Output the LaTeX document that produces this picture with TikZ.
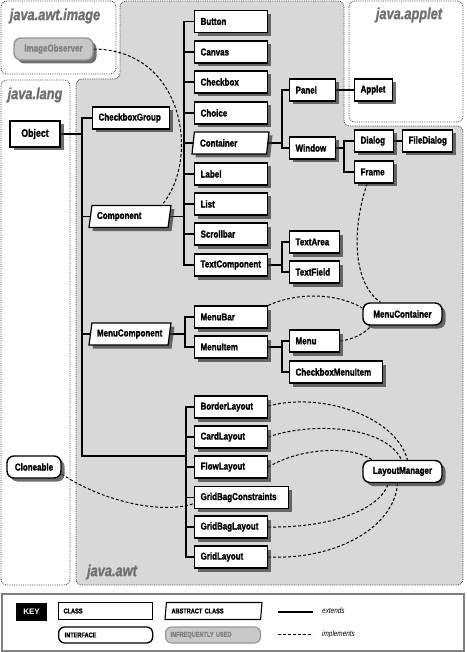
\documentclass[tikz,border=0pt]{standalone}
\usepackage{fontspec}
\setmainfont[FakeStretch=0.8,BoldFeatures={FakeBold=1.6},BoldItalicFeatures={FakeBold=1.2}]{Liberation Sans}
\newfontfamily\keyfont{Liberation Sans}
\usetikzlibrary{shapes.geometric,shadows,calc}
\definecolor{awtgray}{RGB}{216,216,216}
\definecolor{pkggray}{RGB}{112,112,112}
\definecolor{infill}{RGB}{200,200,200}
\definecolor{inline}{RGB}{150,150,150}
\definecolor{intext}{RGB}{128,128,128}
\pgfdeclarelayer{regions}
\pgfdeclarelayer{edges}
\pgfsetlayers{regions,edges,main}
\begin{document}
\begin{tikzpicture}[x=1pt,y=-1pt,
  nfont/.style={font=\bfseries\fontsize{10}{12}\selectfont},
  kfont/.style={font=\bfseries\fontsize{7}{8}\selectfont},
  shad/.style={drop shadow={shadow xshift=3.5pt,shadow yshift=-3.5pt,fill=black!80,opacity=.7}},
  cls/.style={rectangle,draw,line width=1.2pt,fill=white,nfont,minimum height=22pt,inner xsep=6pt,inner ysep=0pt,text width=#1,align=left,shad,anchor=west},
  abs/.style 2 args={trapezium,trapezium left angle=72,trapezium right angle=108,trapezium stretches body=true,draw,line width=1.2pt,fill=white,nfont,minimum width=#1,minimum height=22pt,inner xsep=0pt,inner ysep=0pt,text width=#2,align=left,shad},
  ifc/.style={rectangle,rounded corners=7pt,draw,line width=1.4pt,fill=white,nfont,minimum width=#1,minimum height=22pt,inner sep=0pt,align=center,shad},
  rare/.style={ifc=#1,draw=inline,fill=infill,text=intext},
  region/.style={draw=black!75,densely dotted,line width=0.8pt,rounded corners=6pt},
  pkg/.style={font=\bfseries\itshape\fontsize{16}{19}\selectfont,text=pkggray,inner sep=0pt},
  ext/.style={line width=1.1pt},
  impl/.style={line width=1pt,dash pattern=on 3pt off 2pt},
]
\useasboundingbox (0,0) rectangle (466,652);

% ---------- package regions ----------
\begin{pgfonlayer}{regions}
\draw[region,fill=awtgray] (120,1) -- (344,1) -- (344,126) -- (463,126) -- (463,585) -- (76,585) -- (76,79) -- (120,79) -- cycle;
\draw[region,fill=white] (1,1) rectangle (116,74);
\draw[region,fill=white] (349,1) rectangle (463,122);
\draw[region,fill=white] (1,80) rectangle (70,585);
\end{pgfonlayer}

\node[pkg] (lblimage) at (55,16) {java.awt.image};
\node[pkg] (lbllang) at (35,95) {java.lang};
\node[pkg] (lblapplet) at (409,15) {java.applet};
\node[pkg] (lblawt) at (112,572) {java.awt};

% ---------- nodes ----------
\node[rare=79] (imageobserver) at (53.5,49) {ImageObserver};
\node[cls=38,anchor=center,minimum height=26pt,align=center,font=\bfseries\fontsize{11}{13}\selectfont] (object) at (35,134) {Object};
\node[cls=65] (checkboxgroup) at (92,118) {CheckboxGroup};
\node[abs={82}{66}] (component) at (130,216.5) {Component};
\node[abs={82}{66}] (menucomponent) at (130,334) {MenuComponent};

\node[cls=61] (button) at (194,21.5) {Button};
\node[cls=61] (canvas) at (194,52) {Canvas};
\node[cls=61] (checkbox) at (194,82) {Checkbox};
\node[cls=61] (choice) at (194,113) {Choice};
\node[abs={77}{61}] (container) at (230.5,143) {Container};
\node[cls=61] (label) at (194,174) {Label};
\node[cls=61] (list) at (194,204) {List};
\node[cls=61] (scrollbar) at (194,234) {Scrollbar};
\node[cls=61] (textcomponent) at (194,265) {TextComponent};

\node[cls=34] (panel) at (289,90) {Panel};
\node[cls=34] (window) at (289,148) {Window};
\node[cls=26] (applet) at (354,90) {Applet};
\node[cls=27] (dialog) at (354,141) {Dialog};
\node[cls=38] (filedialog) at (402,141) {FileDialog};
\node[cls=27] (frame) at (354,172) {Frame};
\node[cls=38] (textarea) at (289,242) {TextArea};
\node[cls=38] (textfield) at (289,272) {TextField};

\node[cls=61] (menubar) at (194,317) {MenuBar};
\node[cls=61] (menuitem) at (194,347) {MenuItem};
\node[cls=38] (menu) at (289,341) {Menu};
\node[cls=81] (checkboxmenuitem) at (289,372) {CheckboxMenuItem};
\node[ifc=79] (menucontainer) at (402.5,314) {MenuContainer};

\node[cls=61] (borderlayout) at (194,407) {BorderLayout};
\node[cls=61] (cardlayout) at (194,437) {CardLayout};
\node[cls=61] (flowlayout) at (194,467) {FlowLayout};
\node[cls=82] (gridbagconstraints) at (194,497.5) {GridBagConstraints};
\node[cls=61] (gridbaglayout) at (194,527) {GridBagLayout};
\node[cls=61] (gridlayout) at (194,557) {GridLayout};
\node[ifc=79] (layoutmanager) at (402.5,471.5) {LayoutManager};
\node[ifc=54] (cloneable) at (34,467) {Cloneable};

% ---------- connectors ----------
\begin{pgfonlayer}{edges}
\coordinate (objtrunk) at (object.east -| 82,0);
\coordinate (laytrunk) at (186,456);
\draw[ext] (object.east) -- (objtrunk);
\foreach \c in {checkboxgroup,component,menucomponent}
  \draw[ext] (objtrunk) |- (\c.west);
\draw[ext] (objtrunk) |- (laytrunk);
\foreach \c in {borderlayout,cardlayout,flowlayout,gridbagconstraints,gridbaglayout,gridlayout}
  \draw[ext] (laytrunk) |- (\c.west);

\coordinate (comptrunk) at (component.east -| 184,0);
\draw[ext] (component.east) -- (comptrunk);
\foreach \c in {button,canvas,checkbox,choice,container,label,list,scrollbar,textcomponent}
  \draw[ext] (comptrunk) |- (\c.west);

\coordinate (conttrunk) at (container.east -| 282,0);
\draw[ext] (container.east) -- (conttrunk);
\foreach \c in {panel,window}
  \draw[ext] (conttrunk) |- (\c.west);
\draw[ext] (panel.east) -- (applet.west);

\coordinate (wintrunk) at (window.east -| 344,0);
\draw[ext] (window.east) -- (wintrunk);
\foreach \c in {dialog,frame}
  \draw[ext] (wintrunk) |- (\c.west);
\draw[ext] (dialog.east) -- (filedialog.west);

\coordinate (tctrunk) at (textcomponent.east -| 282,0);
\draw[ext] (textcomponent.east) -- (tctrunk);
\foreach \c in {textarea,textfield}
  \draw[ext] (tctrunk) |- (\c.west);

\coordinate (mctrunk) at (menucomponent.east -| 185,0);
\draw[ext] (menucomponent.east) -- (mctrunk);
\foreach \c in {menubar,menuitem}
  \draw[ext] (mctrunk) |- (\c.west);

\coordinate (mitrunk) at (menuitem.east -| 282,0);
\draw[ext] (menuitem.east) -- (mitrunk);
\foreach \c in {menu,checkboxmenuitem}
  \draw[ext] (mitrunk) |- (\c.west);

% implements
\draw[impl] (imageobserver.east) .. controls (185,50) and (200,160) .. ($(component.north)+(32,0)$);
\draw[impl] ($(frame.south)+(-7,0)$) .. controls (350,235) and (355,285) .. ($(menucontainer.north)+(-22,0)$);
\draw[impl] (menubar.north east) .. controls (295,293) and (335,292) .. ($(menucontainer.west)+(0,-6)$);
\draw[impl] (menu.east) .. controls (355,339) and (365,333) .. ($(menucontainer.south west)+(9,0)$);
\draw[impl] ($(borderlayout.east)+(0,-1)$) .. controls (320,392) and (395,415) .. ($(layoutmanager.north)+(5,0)$);
\draw[impl] (cardlayout.east) .. controls (310,422) and (385,425) .. ($(layoutmanager.north)+(-1,0)$);
\draw[impl] (flowlayout.east) .. controls (300,448) and (350,445) .. ($(layoutmanager.north west)+(10,0)$);
\draw[impl] (gridbaglayout.east) .. controls (330,528) and (380,510) .. ($(layoutmanager.south)+(-14,0)$);
\draw[impl] (gridlayout.east) .. controls (340,560) and (395,525) .. ($(layoutmanager.south)+(-5,0)$);
\draw[impl] ($(cloneable.east)+(0,7)$) .. controls (100,500) and (160,515) .. ($(gridbagconstraints.west)+(0,6)$);
\end{pgfonlayer}

% ---------- key ----------
\draw[line width=2pt,draw=black!50] (2,594) rectangle (464,651);
\node[fill=black,text=white,font=\keyfont\bfseries\fontsize{8}{10}\selectfont,minimum width=31pt,minimum height=18pt,inner sep=0pt] (key) at (31.5,612) {KEY};
\node[rectangle,draw,line width=1.1pt,fill=white,kfont,minimum height=17pt,inner xsep=5pt,inner ysep=0pt,text width=84pt,align=left,anchor=west] (kclass) at (58,611) {CLASS};
\node[trapezium,trapezium left angle=74,trapezium right angle=106,trapezium stretches body=true,draw,line width=1.1pt,fill=white,kfont,minimum width=97pt,minimum height=17pt,inner xsep=0pt,inner ysep=0pt,text width=84pt,align=left] (kabs) at (213.5,611) {ABSTRACT CLASS};
\node[rectangle,rounded corners=6pt,draw,line width=1.3pt,fill=white,kfont,minimum height=16pt,inner xsep=6pt,inner ysep=0pt,text width=82pt,align=left,anchor=west] (kifc) at (58,635) {INTERFACE};
\node[rectangle,rounded corners=6pt,draw=inline,line width=1.1pt,fill=infill,text=intext,kfont,minimum height=16pt,inner xsep=5pt,inner ysep=0pt,text width=85pt,align=left,anchor=west] (krare) at (165,635) {INFREQUENTLY USED};
\coordinate (e1) at (278,612);
\coordinate (e2) at (313,612);
\draw[ext] (e1) -- (e2);
\coordinate (i1) at (278,634);
\coordinate (i2) at (313,634);
\draw[impl] (i1) -- (i2);
\node[font=\itshape\fontsize{8}{10}\selectfont,anchor=west,inner sep=0pt] (extl) at (322,611) {extends};
\node[font=\itshape\fontsize{8}{10}\selectfont,anchor=west,inner sep=0pt] (impll) at (322,634) {implements};
\end{tikzpicture}
\end{document}
